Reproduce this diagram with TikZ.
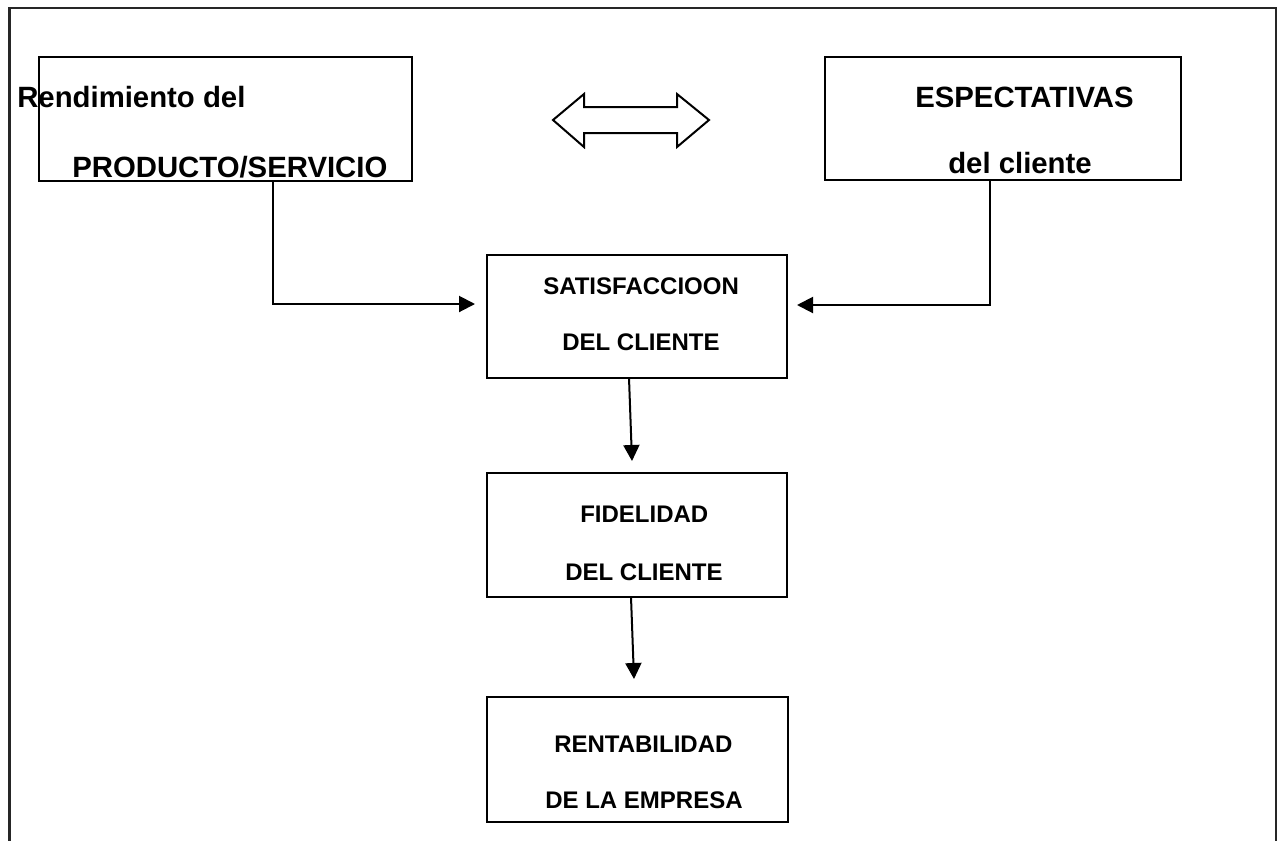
\documentclass[tikz,border=0pt]{standalone}
\usepackage{fontspec}
\setmainfont{Liberation Sans}
\usetikzlibrary{arrows.meta}
\tikzset{
  box/.style={draw,line width=1.5pt,inner sep=0pt},
  bigtxt/.style={font=\fontsize{22}{26}\selectfont\bfseries,inner sep=0pt,anchor=base west},
  boxtxt/.style={font=\fontsize{18}{22}\selectfont\bfseries,inner sep=0pt,anchor=base west},
  conn/.style={line width=1.5pt,-{Triangle[length=12pt,width=12pt]}}
}
\begin{document}
\begin{tikzpicture}[x=0.75pt,y=-0.75pt]
\useasboundingbox (0,0) rectangle (1277,840);
% frame
\draw[line width=2pt,black!85] (9.5,841) -- (9.5,8) -- (1276,8) -- (1276,841);
% top boxes
\node[box,minimum width=279.75pt,minimum height=93pt] (prod) at (225.5,119) {};
\node[box,minimum width=267pt,minimum height=92.25pt] (esp) at (1003,118.5) {};
\node[bigtxt] (prodA) at (17,107) {Rendimiento del};
\node[bigtxt] (prodB) at (72,177) {PRODUCTO/SERVICIO};
\node[bigtxt] (espA) at (915,107) {ESPECTATIVAS};
\node[bigtxt] (espB) at (948,173) {del cliente};
% double arrow
\draw[line width=1.5pt,line join=miter] (553,120) -- (584,94) -- (584,107) -- (677,107) -- (677,94)
  -- (709,120) -- (677,147) -- (677,133) -- (584,133) -- (584,147) -- cycle;
% middle column
\node[box,minimum width=225pt,minimum height=92.25pt] (sat) at (637,316.5) {};
\node[box,minimum width=225pt,minimum height=93pt] (fid) at (637,535) {};
\node[box,minimum width=225.75pt,minimum height=93.75pt] (rent) at (637.5,759.5) {};
\node[boxtxt] (satA) at (543,294) {SATISFACCIOON};
\node[boxtxt] (satB) at (562,350) {DEL CLIENTE};
\node[boxtxt] (fidA) at (580,522) {FIDELIDAD};
\node[boxtxt] (fidB) at (565,580) {DEL CLIENTE};
\node[boxtxt] (rentA) at (554,752) {RENTABILIDAD};
\node[boxtxt] (rentB) at (545,808) {DE LA EMPRESA};
% connectors
\coordinate (prodout) at (273,181);
\coordinate (satL) at (475,304);
\coordinate (espout) at (990,180);
\coordinate (satR) at (797,305);
\draw[conn] (prodout) |- (satL);
\draw[conn] (espout) |- (satR);
\coordinate (satout) at (629,378);
\coordinate (fidin) at (632,461);
\coordinate (fidout) at (631,597);
\coordinate (rentin) at (634,679);
\draw[conn] (satout) -- (fidin);
\draw[conn] (fidout) -- (rentin);
\end{tikzpicture}
\end{document}
